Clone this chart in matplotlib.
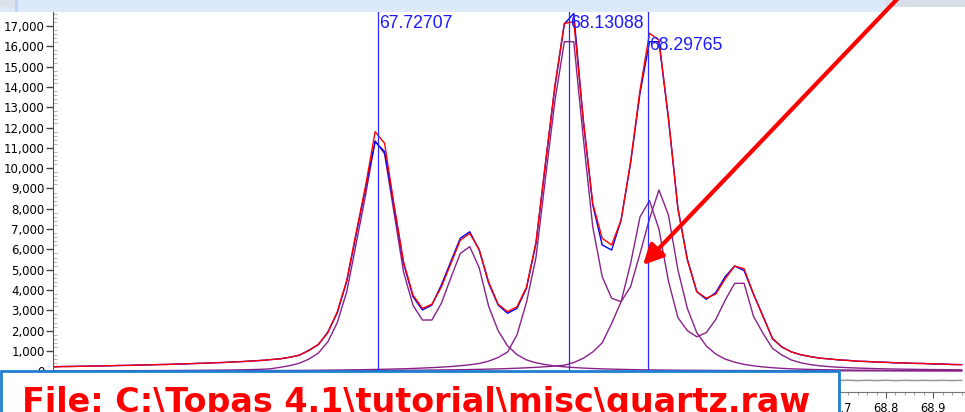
import numpy as np
import matplotlib
matplotlib.use('agg')
import matplotlib.pyplot as plt
from matplotlib.patches import Rectangle
from matplotlib.ticker import FuncFormatter, MultipleLocator

# scan grid, 2-theta (deg), constant step
tth = np.round(np.arange(67.04, 68.961, 0.02), 2)

# observed counts (blue)
y_obs = [228, 235, 238, 250, 254, 268, 272, 288, 292, 308,
         312, 332, 336, 358, 364, 388, 396, 422, 432, 462,
         478, 512, 534, 580, 615, 695, 790, 1040, 1310, 1930,
         2880, 4430, 6750, 9050, 11303, 10811, 8120, 5317, 3673, 3020,
         3264, 4250, 5400, 6550, 6870, 5970, 4330, 3264, 2855, 3100,
         4090, 6300, 10200, 14000, 17100, 17620, 12350, 8200, 6220, 5970,
         7450, 10250, 13700, 16226, 16226, 12450, 8050, 5520, 3920, 3545,
         3870, 4660, 5184, 4955, 3780, 2720, 1600, 1190, 960, 810,
         728, 645, 612, 560, 540, 492, 486, 450, 448, 414,
         413, 388, 386, 360, 358, 333, 330]

# calculated profile (red)
y_calc = [225, 232, 240, 248, 256, 265, 275, 285, 295, 305,
          316, 328, 340, 354, 368, 384, 400, 418, 437, 458,
          482, 508, 538, 575, 620, 690, 800, 1020, 1330, 1900,
          2930, 4480, 6850, 9150, 11795, 11224, 8200, 5400, 3750, 3100,
          3300, 4150, 5300, 6450, 6790, 6000, 4400, 3300, 2935, 3180,
          4150, 6350, 10250, 14050, 17130, 17210, 12400, 8270, 6547, 6218,
          7450, 10300, 13850, 16640, 16310, 12500, 8000, 5480, 3920, 3600,
          3800, 4550, 5184, 5050, 3800, 2690, 1625, 1200, 950, 820,
          720, 650, 605, 565, 530, 500, 478, 458, 440, 422,
          407, 394, 380, 366, 352, 338, 325]

# peak phases (purple)
peak_a = [22, 23, 24, 25, 26, 27, 28, 29, 31, 32,
          34, 36, 38, 41, 44, 47, 51, 55, 60, 66,
          74, 84, 100, 125, 200, 280, 400, 600, 900, 1450,
          2400, 3920, 6300, 8700, 11350, 10700, 7800, 4900, 3250, 2525,
          2525, 3350, 4600, 5800, 6134, 5100, 3200, 2000, 1250, 820,
          560, 420, 330, 265, 220, 185, 158, 137, 120, 106,
          95, 85, 77, 70, 64, 59, 55, 51, 48, 45,
          42, 40, 38, 36, 34, 33, 31, 30, 29, 28,
          27, 26, 25, 24, 24, 23, 22, 22, 21, 21,
          20, 20, 19, 19, 18, 18, 18]

peak_b = [12, 12, 13, 13, 14, 14, 15, 15, 16, 17,
          17, 18, 19, 20, 21, 22, 23, 24, 26, 27,
          29, 31, 33, 35, 38, 41, 44, 48, 52, 57,
          62, 68, 75, 82, 90, 100, 112, 125, 140, 160,
          180, 205, 235, 275, 320, 385, 500, 680, 950, 1800,
          3400, 5600, 9500, 13300, 16226, 16226, 11500, 7120, 4660, 3594,
          3427, 4170, 5800, 7500, 8925, 7700, 5000, 3100, 1900, 1250,
          850, 600, 450, 340, 270, 215, 175, 145, 122, 105,
          92, 82, 74, 67, 61, 56, 52, 49, 46, 43,
          41, 39, 37, 35, 34, 33, 32]

peak_c = [8, 8, 8, 9, 9, 9, 10, 10, 10, 11,
          11, 12, 12, 13, 13, 14, 14, 15, 16, 17,
          17, 18, 19, 20, 21, 22, 24, 25, 27, 28,
          30, 32, 34, 36, 39, 42, 45, 48, 52, 56,
          61, 66, 72, 79, 87, 96, 107, 120, 135, 152,
          172, 196, 225, 262, 300, 430, 640, 950, 1400, 2360,
          3430, 5300, 7600, 8400, 7000, 4450, 2650, 2000, 1700, 1900,
          2550, 3500, 4330, 4330, 2700, 1870, 1130, 800, 556, 420,
          330, 270, 230, 200, 178, 160, 145, 132, 121, 112,
          104, 97, 91, 86, 81, 77, 73]

peak_pos = [67.72707, 68.13088, 68.29765]
peak_text = ['67.72707', '68.13088', '68.29765']
file_name = r'File: C:\Topas 4.1\tutorial\misc\quartz.raw'

W, H = 965, 412
fig = plt.figure(figsize=(W / 100, H / 100), dpi=100)
ax = fig.add_axes([53 / W, 1 - 392 / H, 1 - 53 / W, (392 - 12) / H])
ax.set_zorder(2)
ax.patch.set_alpha(0)

diff = np.array(y_obs) - np.array(y_calc) - 450
ax.plot(tth, diff, color='#9a9a9a', lw=1.1)

for comp in (peak_a, peak_b, peak_c):
    ax.plot(tth, comp, color='#882288', lw=1.0)
ax.plot(tth, y_obs, color='#0000ff', lw=1.0)
ax.plot(tth, y_calc, color='#ff0000', lw=1.0)

lab_y = [17120, 17100, 16015]
for p, t, ly in zip(peak_pos, peak_text, lab_y):
    ax.axvline(p, color='#2a2aff', lw=0.9)
    ax.text(p + 0.001, ly, t, color='#1a1aff', fontsize=12.7,
            family='Liberation Sans', ha='left', va='center')

ax.set_xlim(67.039, 68.967)
ax.set_ylim(-1019, 17688)

ax.set_yticks(range(0, 17001, 1000))
ax.yaxis.set_major_formatter(FuncFormatter(lambda v, p: f'{v:,.0f}'))
ax.yaxis.set_minor_locator(MultipleLocator(200))
ax.xaxis.set_major_locator(MultipleLocator(0.1))
ax.xaxis.set_minor_locator(MultipleLocator(0.02))
ax.xaxis.set_major_formatter(FuncFormatter(lambda v, p: f'{v:.1f}'))

for s in ('top', 'right'):
    ax.spines[s].set_visible(False)
ax.spines['left'].set_color('#555555')
ax.spines['bottom'].set_color('#777777')
ax.tick_params(axis='y', which='major', direction='out', length=5, width=1,
               color='#444444', labelsize=8.5, pad=1)
ax.tick_params(axis='y', which='minor', direction='in', length=3, color='#aaaaaa')
ax.tick_params(axis='x', which='major', direction='out', length=4.5,
               color='#555555', labelsize=8.3, pad=3)
ax.tick_params(axis='x', which='minor', direction='out', length=2.5, color='#888888')

ax.annotate('', xy=(68.2863, 5233), xycoords='data',
            xytext=(903 / W, 1 + 7 / H), textcoords='figure fraction',
            arrowprops=dict(arrowstyle='-|>,head_length=0.6,head_width=0.3',
                            color='#ff0000', lw=3, mutation_scale=20,
                            shrinkA=0, shrinkB=0, clip_on=False),
            annotation_clip=False)

# window chrome at top
fig.add_artist(Rectangle((0, 1 - 12 / H), 885 / W, 12 / H, transform=fig.transFigure,
                         fc='#dce9fb', ec='none', zorder=1))
fig.add_artist(Rectangle((885 / W, 1 - 7 / H), 80 / W, 7 / H, transform=fig.transFigure,
                         fc='#d8dfe8', ec='none', zorder=1))
fig.add_artist(Rectangle((0, 1 - 7 / H), 15 / W, 7 / H, transform=fig.transFigure,
                         fc='#dde2e8', ec='none', zorder=1))
fig.add_artist(Rectangle((15 / W, 1 - 12 / H), 3 / W, 12 / H, transform=fig.transFigure,
                         fc='#bcd4f5', ec='none', zorder=1))

# file name box
fig.add_artist(Rectangle((1 / W, -10 / H), 838 / W, (412 - 371 + 10) / H,
                         transform=fig.transFigure, fc='white', ec='#1f7fd0',
                         lw=2, zorder=3))
fig.text(22 / W, 1 - 412 / H, file_name, color='#ff0000', fontweight='bold',
         fontsize=24, family='DejaVu Sans', ha='left', va='baseline', zorder=4)

fig.savefig('out.png', dpi=100)
